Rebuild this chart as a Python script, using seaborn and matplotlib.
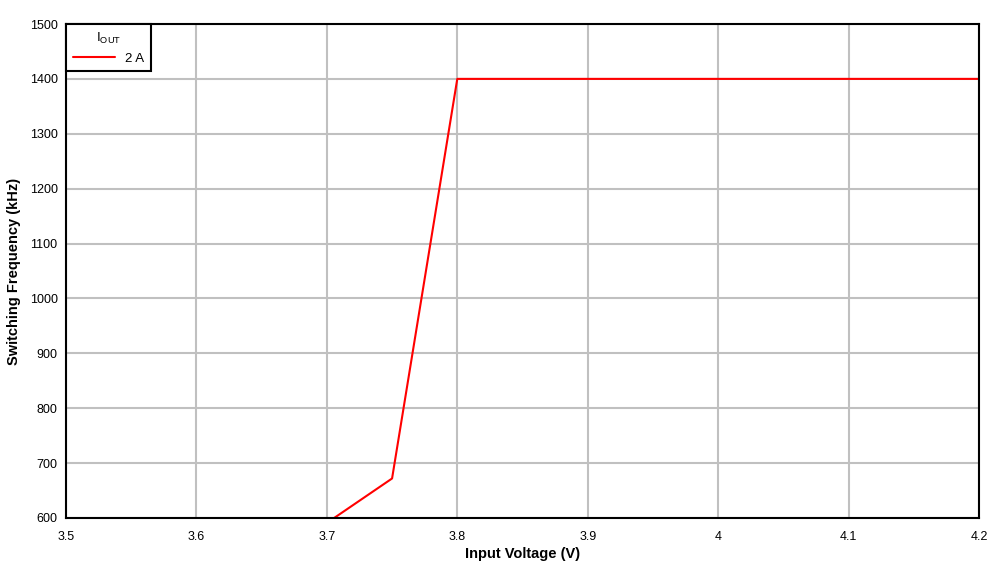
import matplotlib
matplotlib.use("Agg")
import matplotlib.pyplot as plt
import seaborn as sns
import pandas as pd

# Data
vin = [3.70, 3.75, 3.80, 3.90, 4.00, 4.10, 4.20]
fsw = [591, 672, 1400, 1400, 1400, 1400, 1400]
x_ticks = [3.5, 3.6, 3.7, 3.8, 3.9, 4.0, 4.1, 4.2]
x_labels = ["3.5", "3.6", "3.7", "3.8", "3.9", "4", "4.1", "4.2"]
y_ticks = list(range(600, 1501, 100))

data = pd.DataFrame({"Vin": vin, "Fsw": fsw})

sns.set_style("white")
plt.rcParams["font.family"] = ["Liberation Sans", "DejaVu Sans"]
plt.rcParams["text.color"] = "black"
plt.rcParams["axes.labelcolor"] = "black"
plt.rcParams["xtick.color"] = "black"
plt.rcParams["ytick.color"] = "black"

fig = plt.figure(figsize=(10.06, 5.70), dpi=100)
ax = fig.add_axes([66 / 1006, 1 - 518 / 570, (979 - 66) / 1006, (518 - 24) / 570])

sns.lineplot(data=data, x="Vin", y="Fsw", ax=ax, color="#ff0000", linewidth=1.5,
             label="2 A")

ax.set_xlim(3.5, 4.2)
ax.set_ylim(600, 1500)
ax.set_xticks(x_ticks)
ax.set_xticklabels(x_labels)
ax.set_yticks(y_ticks)
ax.grid(True, color="#c0c0c0", linewidth=1.5)
ax.set_axisbelow(True)
for s in ax.spines.values():
    s.set_color("black")
    s.set_linewidth(1.5)
ax.tick_params(axis="both", length=0, labelsize=9)
ax.tick_params(axis="x", pad=9)
ax.tick_params(axis="y", pad=6)

ax.set_xlabel("Input Voltage (V)", fontsize=10.5, fontweight="bold", labelpad=3)
ax.set_ylabel("Switching Frequency (kHz)", fontsize=10.5, fontweight="bold", labelpad=6)

leg = ax.legend(title=r"I$_{\mathregular{OUT}}$", loc="upper left", fontsize=9.5,
                title_fontsize=9.5, frameon=True, fancybox=False,
                borderaxespad=0, handlelength=3.2, borderpad=0.5)
leg.get_frame().set_edgecolor("black")
leg.get_frame().set_linewidth(1.5)
leg.get_frame().set_alpha(1)

fig.savefig("out.png", dpi=100)
